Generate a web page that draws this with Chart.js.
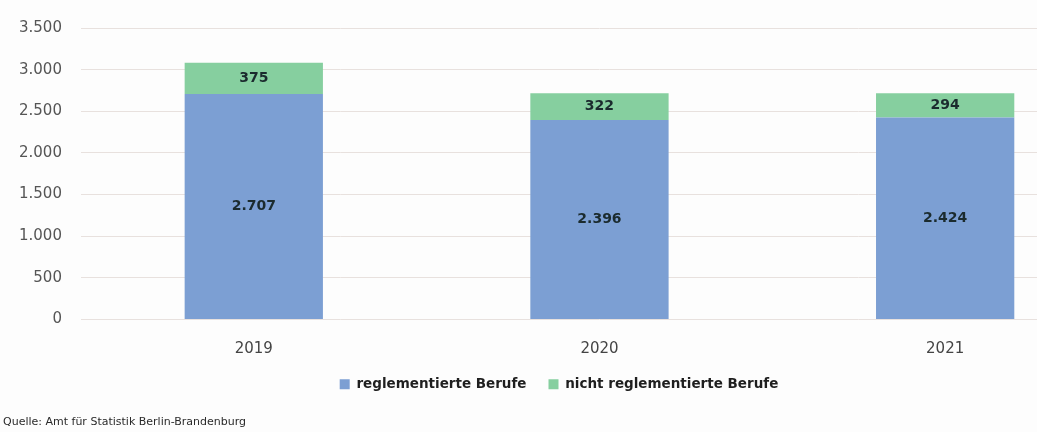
<!DOCTYPE html>
<html>
<head>
<meta charset="utf-8">
<script src="https://cdn.jsdelivr.net/npm/chart.js@4"></script>
<style>
  html, body { margin: 0; padding: 0; background: #fdfdfd; overflow: hidden; }
  #wrap { position: absolute; left: 0; top: 0; width: 1118px; height: 432px; }
  #source { position: absolute; left: 3px; top: 415px; font: 11px "DejaVu Sans", sans-serif; color: #2a2a2a; }
</style>
</head>
<body>
<div id="wrap"><canvas id="chart"></canvas></div>
<div id="source">Quelle: Amt für Statistik Berlin-Brandenburg</div>
<script>
// Jahre und Werte
const years = ["2019", "2020", "2021"];
const regulated = [2707, 2396, 2424];
const notRegulated = [375, 322, 294];
const yTicks = [0, 500, 1000, 1500, 2000, 2500, 3000, 3500];

function fmt(n) {
  return String(n).replace(/\B(?=(\d{3})+(?!\d))/g, ".");
}

// Werte in die Balken schreiben
const barLabels = {
  id: "barLabels",
  afterDatasetsDraw(chart) {
    const ctx = chart.ctx;
    ctx.save();
    ctx.font = "bold 14px 'DejaVu Sans', sans-serif";
    ctx.fillStyle = "#1b2b2e";
    ctx.textAlign = "center";
    ctx.textBaseline = "middle";
    chart.data.datasets.forEach((ds, i) => {
      const meta = chart.getDatasetMeta(i);
      meta.data.forEach((bar, j) => {
        ctx.fillText(fmt(ds.data[j]), bar.x, (bar.y + bar.base) / 2);
      });
    });
    ctx.restore();
  }
};

new Chart(document.getElementById("chart"), {
  type: "bar",
  data: {
    labels: years,
    datasets: [
      { label: "reglementierte Berufe", data: regulated, backgroundColor: "#7c9fd3" },
      { label: "nicht reglementierte Berufe", data: notRegulated, backgroundColor: "#86cf9f" }
    ]
  },
  options: {
    responsive: true,
    maintainAspectRatio: false,
    animation: false,
    datasets: { bar: { barPercentage: 0.4, categoryPercentage: 1 } },
    layout: { padding: { left: 0, top: 20, right: 0, bottom: 31 } },
    plugins: {
      legend: {
        position: "bottom",
        labels: {
          boxWidth: 10,
          boxHeight: 10,
          padding: 22,
          color: "#1f1f1f",
          font: { family: "'DejaVu Sans', sans-serif", size: 13.5, weight: "bold" }
        }
      },
      tooltip: { enabled: false }
    },
    scales: {
      x: {
        stacked: true,
        grid: { display: false },
        border: { display: false },
        afterFit(scale) { scale.height = 36; },
        ticks: { color: "#444", padding: 13, font: { family: "'DejaVu Sans', sans-serif", size: 15 } }
      },
      y: {
        stacked: true,
        min: 0,
        max: 3500,
        afterBuildTicks(axis) { axis.ticks = yTicks.map(v => ({ value: v })); },
        grid: { color: "#e8e1de", drawTicks: false },
        border: { display: false },
        ticks: {
          color: "#555",
          padding: 19,
          font: { family: "'DejaVu Sans', sans-serif", size: 15 },
          callback: v => fmt(v)
        }
      }
    }
  },
  plugins: [barLabels]
});
</script>
</body>
</html>
